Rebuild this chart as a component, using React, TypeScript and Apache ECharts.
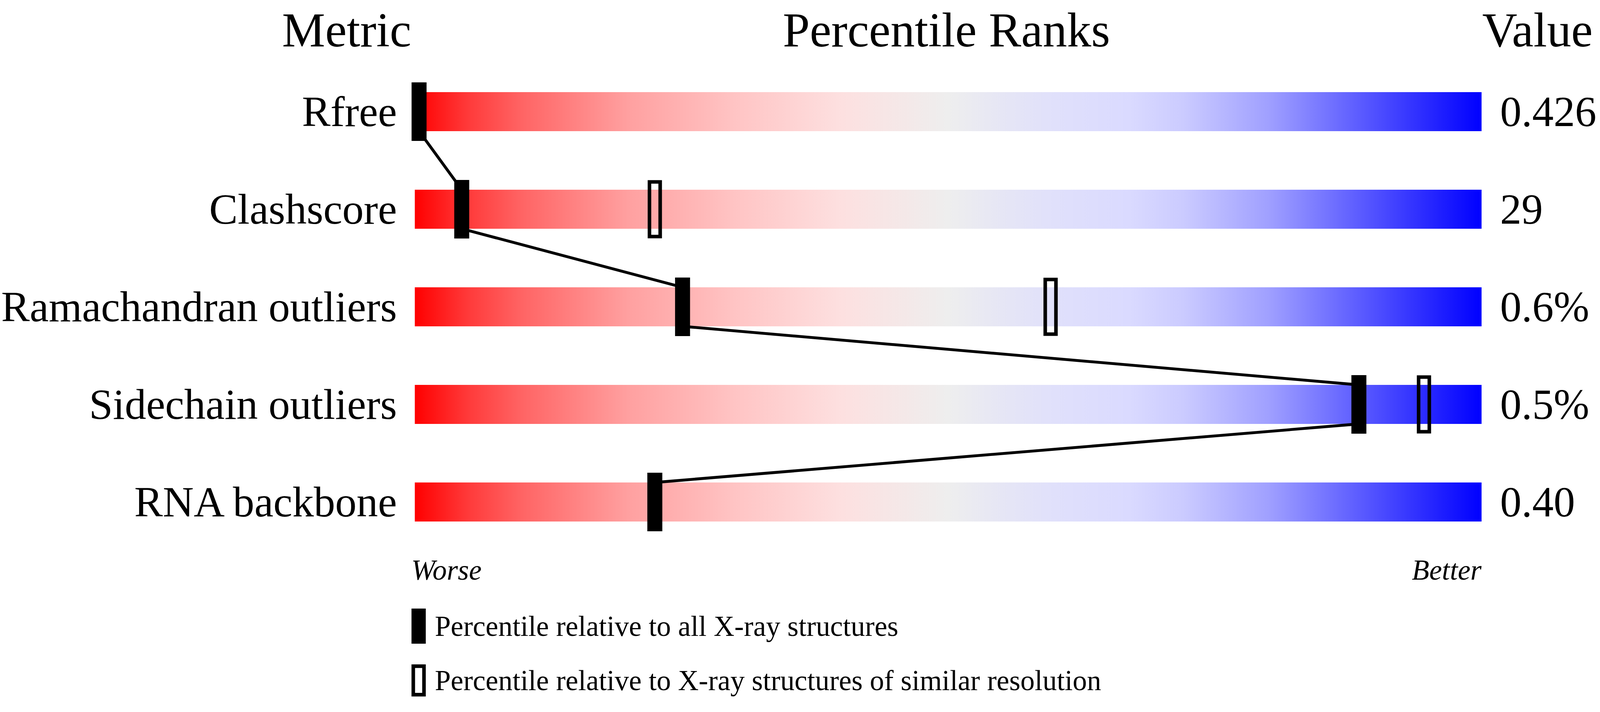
import React, { useEffect, useRef } from 'react';
import * as echarts from 'echarts';

// ---- data ----
const metrics = ['Rfree', 'Clashscore', 'Ramachandran outliers', 'Sidechain outliers', 'RNA backbone'];
const valueLabels = ['0.426', '29', '0.6%', '0.5%', '0.40'];
const percentAll = [0.4, 4.4, 25.1, 88.5, 22.5];
const percentSimilar: (number | null)[] = [null, 22.5, 59.6, 94.6, null];
const scaleMin = 0;
const scaleMax = 100;
const headers = ['Metric', 'Percentile Ranks', 'Value'];
const endLabels = ['Worse', 'Better'];
const legendNames = [
  'Percentile relative to all X-ray structures',
  'Percentile relative to X-ray structures of similar resolution',
];

const FONT = '"Liberation Serif", "Times New Roman", Times, serif';
const REF_W = 4485;
const REF_H = 1824;

export default function App() {
  const ref = useRef<HTMLDivElement>(null);
  useEffect(() => {
    document.body.style.margin = '0';
    document.body.style.overflow = 'hidden';
    const el = ref.current!;
    const W = el.clientWidth || window.innerWidth;
    const H = el.clientHeight || window.innerHeight;
    const sx = W / REF_W;
    const sy = H / REF_H;
    const s = Math.min(sx, sy);
    const px = (v: number) => v * sx;
    const py = (v: number) => v * sy;
    const fs = (v: number) => v * s;

    const chart = echarts.init(el, null, { renderer: 'svg', width: W, height: H });

    const gradient = new echarts.graphic.LinearGradient(0, 0, 1, 0, [
      { offset: 0, color: '#ff0000' },
      { offset: 0.05, color: '#ff3a3a' },
      { offset: 0.1, color: '#ff6464' },
      { offset: 0.2, color: '#ffa0a0' },
      { offset: 0.3, color: '#ffc4c4' },
      { offset: 0.4, color: '#fde0e0' },
      { offset: 0.5, color: '#eeeeee' },
      { offset: 0.55, color: '#e6e6f5' },
      { offset: 0.6, color: '#e0e0fb' },
      { offset: 0.67, color: '#dadaff' },
      { offset: 0.72, color: '#cbcbff' },
      { offset: 0.8, color: '#a0a0ff' },
      { offset: 0.86, color: '#7070ff' },
      { offset: 0.91, color: '#4848ff' },
      { offset: 1, color: '#0000ff' },
    ]);

    const allData = percentAll.map((p, i) => [p, i]);
    const similarData = percentSimilar.flatMap((p, i) => (p == null ? [] : [[p, i]]));
    const linkData = percentAll.slice(1).map((p, i) => [percentAll[i], i, p, i + 1]);

    const gridLeft = 1153;
    const gridRight = 332;
    const barCenterX = gridLeft + (REF_W - gridLeft - gridRight) / 2;
    const titleY = 77;
    const titleSize = 136;

    const markW = px(42);
    const markH = py(150);
    const openW = px(30);
    const openH = py(140);

    chart.setOption({
      animation: false,
      backgroundColor: '#ffffff',
      grid: { left: px(gridLeft), right: px(gridRight), top: py(161), height: py(1250), containLabel: false },
      xAxis: { type: 'value', min: scaleMin, max: scaleMax, show: false },
      yAxis: [
        {
          type: 'category',
          data: metrics,
          inverse: true,
          axisLine: { show: false },
          axisTick: { show: false },
          splitLine: { show: false },
          axisLabel: {
            fontFamily: FONT,
            fontSize: fs(120),
            color: '#000',
            margin: px(50),
            padding: [py(20), 0, 0, 0],
          },
        },
        {
          type: 'category',
          data: valueLabels,
          inverse: true,
          position: 'right',
          axisLine: { show: false },
          axisTick: { show: false },
          splitLine: { show: false },
          axisLabel: {
            fontFamily: FONT,
            fontSize: fs(120),
            color: '#000',
            margin: px(52),
            padding: [py(20), 0, 0, 0],
          },
        },
      ],
      legend: {
        orient: 'vertical',
        left: px(1148),
        top: py(1554),
        itemWidth: px(40),
        itemHeight: py(90),
        itemGap: py(53),
        selectedMode: false,
        textStyle: { fontFamily: FONT, fontSize: fs(80), color: '#000', padding: [py(26), 0, 0, px(20)] },
        data: [
          { name: legendNames[0], icon: 'rect', itemStyle: { color: '#000' } },
          {
            name: legendNames[1],
            icon: 'path://M0,0H40V90H0Z M10,10V80H30V10Z',
            itemStyle: { color: '#000' },
          },
        ],
      },
      graphic: [
        {
          type: 'text',
          x: px(gridLeft),
          y: py(titleY),
          style: { text: headers[0], fontFamily: FONT, fontSize: fs(titleSize), fill: '#000', align: 'right', verticalAlign: 'middle' },
        },
        {
          type: 'text',
          x: px(barCenterX),
          y: py(titleY),
          style: { text: headers[1], fontFamily: FONT, fontSize: fs(titleSize), fill: '#000', align: 'center', verticalAlign: 'middle' },
        },
        {
          type: 'text',
          x: px(4155),
          y: py(titleY),
          style: { text: headers[2], fontFamily: FONT, fontSize: fs(titleSize), fill: '#000', align: 'left', verticalAlign: 'middle' },
        },
        {
          type: 'text',
          x: px(gridLeft),
          y: py(1460),
          style: { text: endLabels[0], fontFamily: FONT, fontStyle: 'italic', fontSize: fs(80), fill: '#000', align: 'left', verticalAlign: 'middle' },
        },
        {
          type: 'text',
          x: px(REF_W - gridRight),
          y: py(1460),
          style: { text: endLabels[1], fontFamily: FONT, fontStyle: 'italic', fontSize: fs(80), fill: '#000', align: 'right', verticalAlign: 'middle' },
        },
      ],
      series: [
        {
          type: 'bar',
          yAxisIndex: 0,
          data: metrics.map(() => scaleMax),
          barWidth: py(100),
          silent: true,
          itemStyle: { color: gradient },
          z: 1,
        },
        {
          type: 'custom',
          name: 'links',
          yAxisIndex: 0,
          data: linkData,
          encode: { x: [0, 2], y: [1, 3] },
          silent: true,
          z: 2,
          renderItem: (params: any, api: any) => {
            const a = api.coord([api.value(0), api.value(1)]);
            const b = api.coord([api.value(2), api.value(3)]);
            const half = api.size([0, 1])[1] * 0.2;
            return {
              type: 'line',
              shape: { x1: a[0], y1: a[1] + half, x2: b[0], y2: b[1] - half },
              style: { stroke: '#000', lineWidth: fs(8), lineCap: 'butt' },
            };
          },
        },
        {
          type: 'custom',
          name: legendNames[1],
          yAxisIndex: 0,
          data: similarData,
          encode: { x: 0, y: 1 },
          silent: true,
          z: 3,
          renderItem: (params: any, api: any) => {
            const c = api.coord([api.value(0), api.value(1)]);
            return {
              type: 'rect',
              shape: { x: c[0] - openW / 2, y: c[1] - openH / 2, width: openW, height: openH },
              style: { fill: 'none', stroke: '#000', lineWidth: fs(10) },
            };
          },
        },
        {
          type: 'custom',
          name: legendNames[0],
          yAxisIndex: 0,
          data: allData,
          encode: { x: 0, y: 1 },
          silent: true,
          z: 4,
          renderItem: (params: any, api: any) => {
            const c = api.coord([api.value(0), api.value(1)]);
            return {
              type: 'rect',
              shape: { x: c[0] - markW / 2, y: c[1] - markH / 2, width: markW, height: markH },
              style: { fill: '#000' },
            };
          },
        },
      ],
    });
    return () => chart.dispose();
  }, []);
  return (
    <div
      ref={ref}
      style={{ width: '100vw', height: '100vh', position: 'absolute', left: 0, top: 0, background: '#fff' }}
    />
  );
}
